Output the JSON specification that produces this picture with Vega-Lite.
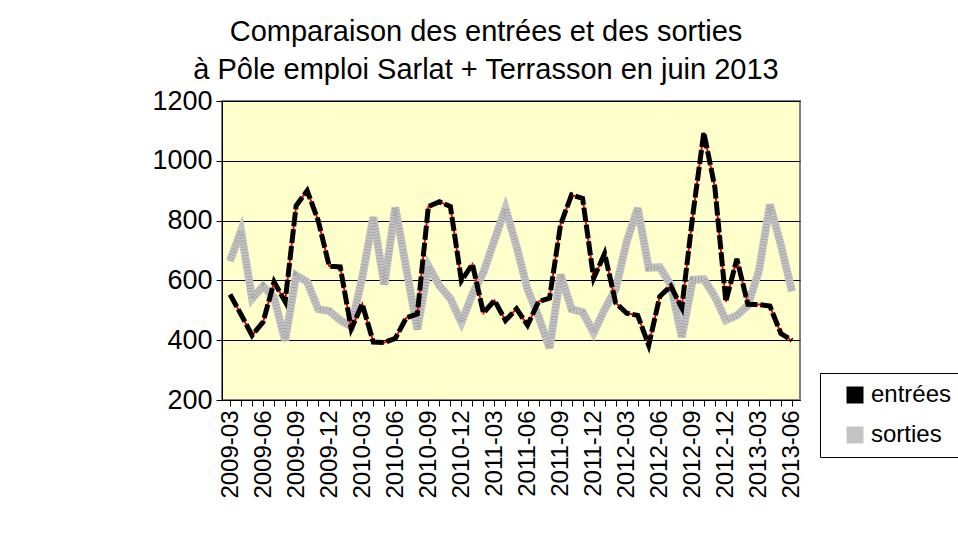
{
  "$schema": "https://vega.github.io/schema/vega-lite/v6.json",
  "width": 578,
  "height": 299,
  "autosize": "none",
  "padding": {"left": 222, "top": 101, "right": 158, "bottom": 158},
  "background": "white",
  "title": {
    "text": ["Comparaison des entrées et des sorties", "à Pôle emploi Sarlat + Terrasson en juin 2013"],
    "fontSize": 29,
    "font": "Liberation Sans",
    "fontWeight": "normal",
    "color": "black",
    "lineHeight": 38,
    "anchor": "middle",
    "frame": "group",
    "dx": -25,
    "offset": 2
  },
  "config": {
    "view": {"fill": "#FFFFCC", "stroke": "#808080", "strokeWidth": 2},
    "font": "Liberation Sans",
    "axisY": {
      "grid": true,
      "gridColor": "black",
      "gridOpacity": 1,
      "gridWidth": 1,
      "domainColor": "black",
      "tickColor": "black",
      "tickSize": 6,
      "labelFontSize": 27,
      "labelFont": "Liberation Sans",
      "labelColor": "black",
      "labelPadding": 4
    },
    "axisX": {
      "labelAngle": -90,
      "labelFontSize": 24,
      "labelFont": "Liberation Sans",
      "labelColor": "black",
      "labelOverlap": false,
      "labelPadding": 4,
      "tickColor": "black",
      "tickSize": 6,
      "domainColor": "black",
      "grid": false
    }
  },
  "data": {
    "values": [
      {"mois": "2009-03", "entrées": 553, "sorties": 665},
      {"mois": "2009-04", "entrées": 486, "sorties": 766},
      {"mois": "2009-05", "entrées": 416, "sorties": 539},
      {"mois": "2009-06", "entrées": 461, "sorties": 581},
      {"mois": "2009-07", "entrées": 595, "sorties": 542},
      {"mois": "2009-08", "entrées": 529, "sorties": 399},
      {"mois": "2009-09", "entrées": 850, "sorties": 617},
      {"mois": "2009-10", "entrées": 900, "sorties": 595},
      {"mois": "2009-11", "entrées": 800, "sorties": 504},
      {"mois": "2009-12", "entrées": 648, "sorties": 498},
      {"mois": "2010-01", "entrées": 645, "sorties": 467},
      {"mois": "2010-02", "entrées": 438, "sorties": 446},
      {"mois": "2010-03", "entrées": 521, "sorties": 610},
      {"mois": "2010-04", "entrées": 394, "sorties": 811},
      {"mois": "2010-05", "entrées": 392, "sorties": 586},
      {"mois": "2010-06", "entrées": 406, "sorties": 844},
      {"mois": "2010-07", "entrées": 475, "sorties": 639},
      {"mois": "2010-08", "entrées": 488, "sorties": 436},
      {"mois": "2010-09", "entrées": 847, "sorties": 648},
      {"mois": "2010-10", "entrées": 863, "sorties": 582},
      {"mois": "2010-11", "entrées": 847, "sorties": 539},
      {"mois": "2010-12", "entrées": 599, "sorties": 459},
      {"mois": "2011-01", "entrées": 654, "sorties": 554},
      {"mois": "2011-02", "entrées": 491, "sorties": 627},
      {"mois": "2011-03", "entrées": 533, "sorties": 735},
      {"mois": "2011-04", "entrées": 466, "sorties": 841},
      {"mois": "2011-05", "entrées": 505, "sorties": 714},
      {"mois": "2011-06", "entrées": 450, "sorties": 570},
      {"mois": "2011-07", "entrées": 529, "sorties": 479},
      {"mois": "2011-08", "entrées": 541, "sorties": 373},
      {"mois": "2011-09", "entrées": 787, "sorties": 619},
      {"mois": "2011-10", "entrées": 886, "sorties": 504},
      {"mois": "2011-11", "entrées": 874, "sorties": 494},
      {"mois": "2011-12", "entrées": 607, "sorties": 425},
      {"mois": "2012-01", "entrées": 690, "sorties": 503},
      {"mois": "2012-02", "entrées": 525, "sorties": 571},
      {"mois": "2012-03", "entrées": 490, "sorties": 730},
      {"mois": "2012-04", "entrées": 483, "sorties": 841},
      {"mois": "2012-05", "entrées": 383, "sorties": 642},
      {"mois": "2012-06", "entrées": 546, "sorties": 644},
      {"mois": "2012-07", "entrées": 581, "sorties": 585},
      {"mois": "2012-08", "entrées": 508, "sorties": 410},
      {"mois": "2012-09", "entrées": 818, "sorties": 602},
      {"mois": "2012-10", "entrées": 1095, "sorties": 604},
      {"mois": "2012-11", "entrées": 912, "sorties": 546},
      {"mois": "2012-12", "entrées": 529, "sorties": 467},
      {"mois": "2013-01", "entrées": 672, "sorties": 483},
      {"mois": "2013-02", "entrées": 520, "sorties": 516},
      {"mois": "2013-03", "entrées": 519, "sorties": 632},
      {"mois": "2013-04", "entrées": 514, "sorties": 854},
      {"mois": "2013-05", "entrées": 422, "sorties": 718},
      {"mois": "2013-06", "entrées": 399, "sorties": 563}
    ]
  },
  "encoding": {
    "x": {
      "field": "mois",
      "type": "ordinal",
      "scale": {"type": "point", "padding": 0.73},
      "axis": {
        "title": null,
        "labelExpr": "indexof(['03','06','09','12'], substring(datum.value, 5, 7)) >= 0 ? datum.value : ''"
      }
    }
  },
  "layer": [
    {
      "mark": {"type": "line", "strokeWidth": 8},
      "encoding": {
        "y": {
          "field": "sorties",
          "type": "quantitative",
          "scale": {"domain": [200, 1200], "nice": false, "zero": false},
          "axis": {"title": null, "values": [200, 400, 600, 800, 1000, 1200], "format": "d"}
        },
        "color": {
          "datum": "sorties",
          "scale": {"domain": ["entrées", "sorties"], "range": ["#000000", "#C4C4C4"]},
          "legend": {
            "orient": "none",
            "legendX": 598,
            "legendY": 272,
            "title": null,
            "symbolType": "square",
            "symbolSize": 289,
            "symbolStrokeWidth": 0,
            "labelFontSize": 24,
            "labelFont": "Liberation Sans",
            "labelColor": "black",
            "strokeColor": "black",
            "fillColor": "white",
            "padding": 10,
            "rowPadding": 16,
            "symbolOffset": 13,
            "labelOffset": 4,
            "labelLimit": 300,
            "encode": {
              "symbols": {"update": {"fill": {"scale": "color", "field": "value"}, "opacity": {"value": 1}}}
            }
          }
        }
      }
    },
    {
      "mark": {"type": "line", "strokeWidth": 6, "color": "#8A8A8A", "strokeDash": [1, 2], "opacity": 0.55},
      "encoding": {
        "y": {"field": "sorties", "type": "quantitative", "axis": {"title": null, "values": [200, 400, 600, 800, 1000, 1200], "format": "d"}}
      }
    },
    {
      "mark": {"type": "line", "strokeWidth": 2, "color": "#FF0000"},
      "encoding": {
        "y": {"field": "entrées", "type": "quantitative", "axis": {"title": null, "values": [200, 400, 600, 800, 1000, 1200], "format": "d"}}
      }
    },
    {
      "mark": {"type": "line", "strokeWidth": 5, "strokeDash": [14, 3]},
      "encoding": {
        "y": {"field": "entrées", "type": "quantitative", "axis": {"title": null, "values": [200, 400, 600, 800, 1000, 1200], "format": "d"}},
        "color": {"datum": "entrées"}
      }
    }
  ]
}
